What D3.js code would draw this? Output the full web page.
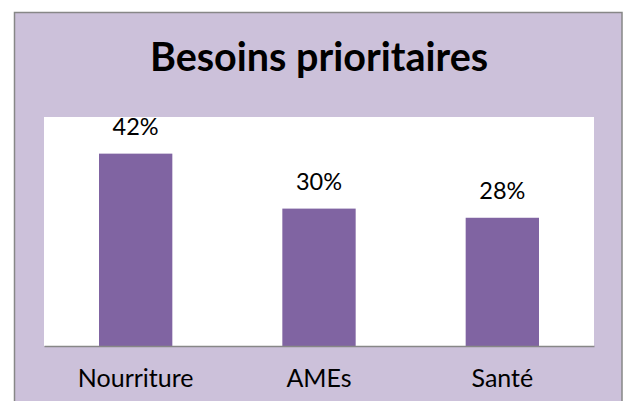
<!DOCTYPE html>
<html>
<head>
<meta charset="utf-8">
<script src="https://cdn.jsdelivr.net/npm/d3@7"></script>
<style>
  body { margin: 0; background: #fff; }
  svg { display: block; font-family: Lato, "Open Sans", sans-serif; }
</style>
</head>
<body>
<div id="chart"></div>
<script>
// chart data
const categories = ["Nourriture", "AMEs", "Santé"];
const values = [0.42, 0.30, 0.28];
const chartTitle = "Besoins prioritaires";

const W = 625, H = 401;
let margin = {top: 117, right: 31, left: 44, bottom: 55};
let width = W - margin.left - margin.right;
let height = H - margin.top - margin.bottom;

let svg = d3.select("#chart")
    .append("svg")
    .attr("width", W)
    .attr("height", H);

// lavender chart area with grey border
svg.append("rect")
    .attr("x", 14.5)
    .attr("y", 12.5)
    .attr("width", 607.5)
    .attr("height", 420)
    .attr("fill", "#ccc1da")
    .attr("stroke", "#878787")
    .attr("stroke-width", 1.5);

svg.append("text")
    .attr("x", 319)
    .attr("y", 71)
    .attr("text-anchor", "middle")
    .attr("font-weight", "bold")
    .attr("font-size", 39.5)
    .attr("fill", "#000")
    .text(chartTitle);

let plot = svg.append("g")
    .attr("transform", "translate(" + margin.left + "," + margin.top + ")");

plot.append("rect")
    .attr("width", width)
    .attr("height", height)
    .attr("fill", "#fff");

let xScale = d3.scaleBand()
    .domain(categories)
    .range([0, width])
    .paddingInner(0.6)
    .paddingOuter(0.3);

let yScale = d3.scaleLinear()
    .domain([0, 0.5])
    .range([height, 0]);

plot.selectAll(".bar")
    .data(values)
    .enter()
    .append("rect")
    .attr("class", "bar")
    .attr("x", (d, i) => xScale(categories[i]))
    .attr("y", d => yScale(d))
    .attr("width", xScale.bandwidth())
    .attr("height", d => height - yScale(d))
    .attr("fill", "#8064a2");

plot.selectAll(".label")
    .data(values)
    .enter()
    .append("text")
    .attr("class", "label")
    .attr("x", (d, i) => xScale(categories[i]) + xScale.bandwidth() / 2)
    .attr("y", d => yScale(d) - 19)
    .attr("text-anchor", "middle")
    .attr("font-size", 23.5)
    .attr("fill", "#000")
    .text(d => d3.format(".0%")(d));

let xAxis = d3.axisBottom(xScale).tickSize(0).tickPadding(41);

let gx = plot.append("g")
    .attr("transform", "translate(0," + height + ")")
    .call(xAxis);

gx.select(".domain")
    .attr("stroke", "#878787")
    .attr("stroke-width", 1.5);

gx.selectAll("text")
    .attr("dy", null)
    .attr("font-family", "Lato, 'Open Sans', sans-serif")
    .attr("font-size", 25)
    .attr("fill", "#000");
</script>
</body>
</html>
